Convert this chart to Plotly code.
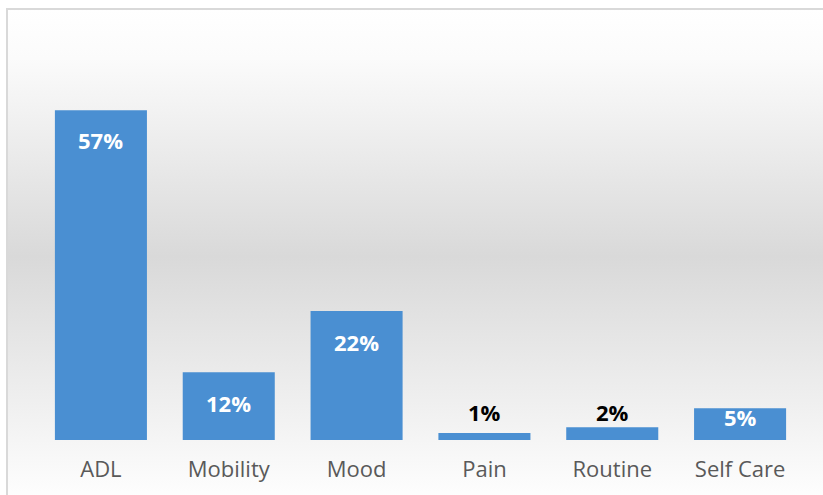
import base64

import plotly.graph_objects as go

categories = ['ADL', 'Mobility', 'Mood', 'Pain', 'Routine', 'Self Care']
shares = [0.57, 0.117, 0.223, 0.012, 0.022, 0.055]
share_labels = ['57%', '12%', '22%', '1%', '2%', '5%']

W, H = 823, 495
M_L, M_R, M_T, M_B = 37, 19, 93, 55
PW, PH = W - M_L - M_R, H - M_T - M_B


def px_x(v):
    return (v - M_L) / PW


def px_y(v):
    return (H - M_B - v) / PH


# grey band background, like the Excel chart style
svg = ('<svg xmlns="http://www.w3.org/2000/svg" width="10" height="100" viewBox="0 0 10 100" '
       'preserveAspectRatio="none"><defs><linearGradient id="g" x1="0" y1="0" x2="0" y2="1">'
       '<stop offset="0" stop-color="#ffffff"/><stop offset="0.1" stop-color="#fbfbfb"/>'
       '<stop offset="0.5" stop-color="#d9d9d9"/>'
       '<stop offset="1" stop-color="#ffffff"/></linearGradient></defs>'
       '<rect width="10" height="100" fill="url(#g)"/></svg>')
bg_src = 'data:image/svg+xml;base64,' + base64.b64encode(svg.encode()).decode()

fig = go.Figure(go.Bar(
    x=categories, y=shares,
    marker=dict(color='#4a8fd2', line=dict(width=0)),
    hoverinfo='skip',
))

# label offsets in pixels from the bar top (Excel "inside end" / clamped)
label_shift = [-30, -31, -31, 21, 15, -9]
label_inside = [True, True, True, False, False, True]
for cat, val, lab, sh, inside in zip(categories, shares, share_labels, label_shift, label_inside):
    fig.add_annotation(
        x=cat, y=val, text='<b>%s</b>' % lab, showarrow=False, yshift=sh,
        font=dict(family='Open Sans', size=22, color='white' if inside else 'black'),
    )

fig.update_layout(
    width=W, height=H,
    margin=dict(l=M_L, r=M_R, t=M_T, b=M_B),
    paper_bgcolor='white',
    plot_bgcolor='rgba(0,0,0,0)',
    bargap=0.28,
    showlegend=False,
    font=dict(family='Open Sans', color='#595959'),
    images=[dict(source=bg_src, xref='paper', yref='paper',
                 x=px_x(6), y=px_y(9), sizex=px_x(W + 10) - px_x(6), sizey=px_y(9) - px_y(H + 10),
                 xanchor='left', yanchor='top', sizing='stretch', layer='below')],
    shapes=[dict(type='rect', xref='paper', yref='paper',
                 x0=px_x(7), y0=px_y(9), x1=px_x(W + 10), y1=px_y(H + 10),
                 line=dict(color='#d9d9d9', width=2), layer='above')],
)
fig.update_xaxes(showgrid=False, showline=False, ticks='', tickfont=dict(size=22, color='#595959'),
                 ticklabelstandoff=14)
fig.update_yaxes(range=[0, 0.6], visible=False)

fig.write_html('out.html', config={'displayModeBar': False},
               post_script="document.body.style.margin='0';")
